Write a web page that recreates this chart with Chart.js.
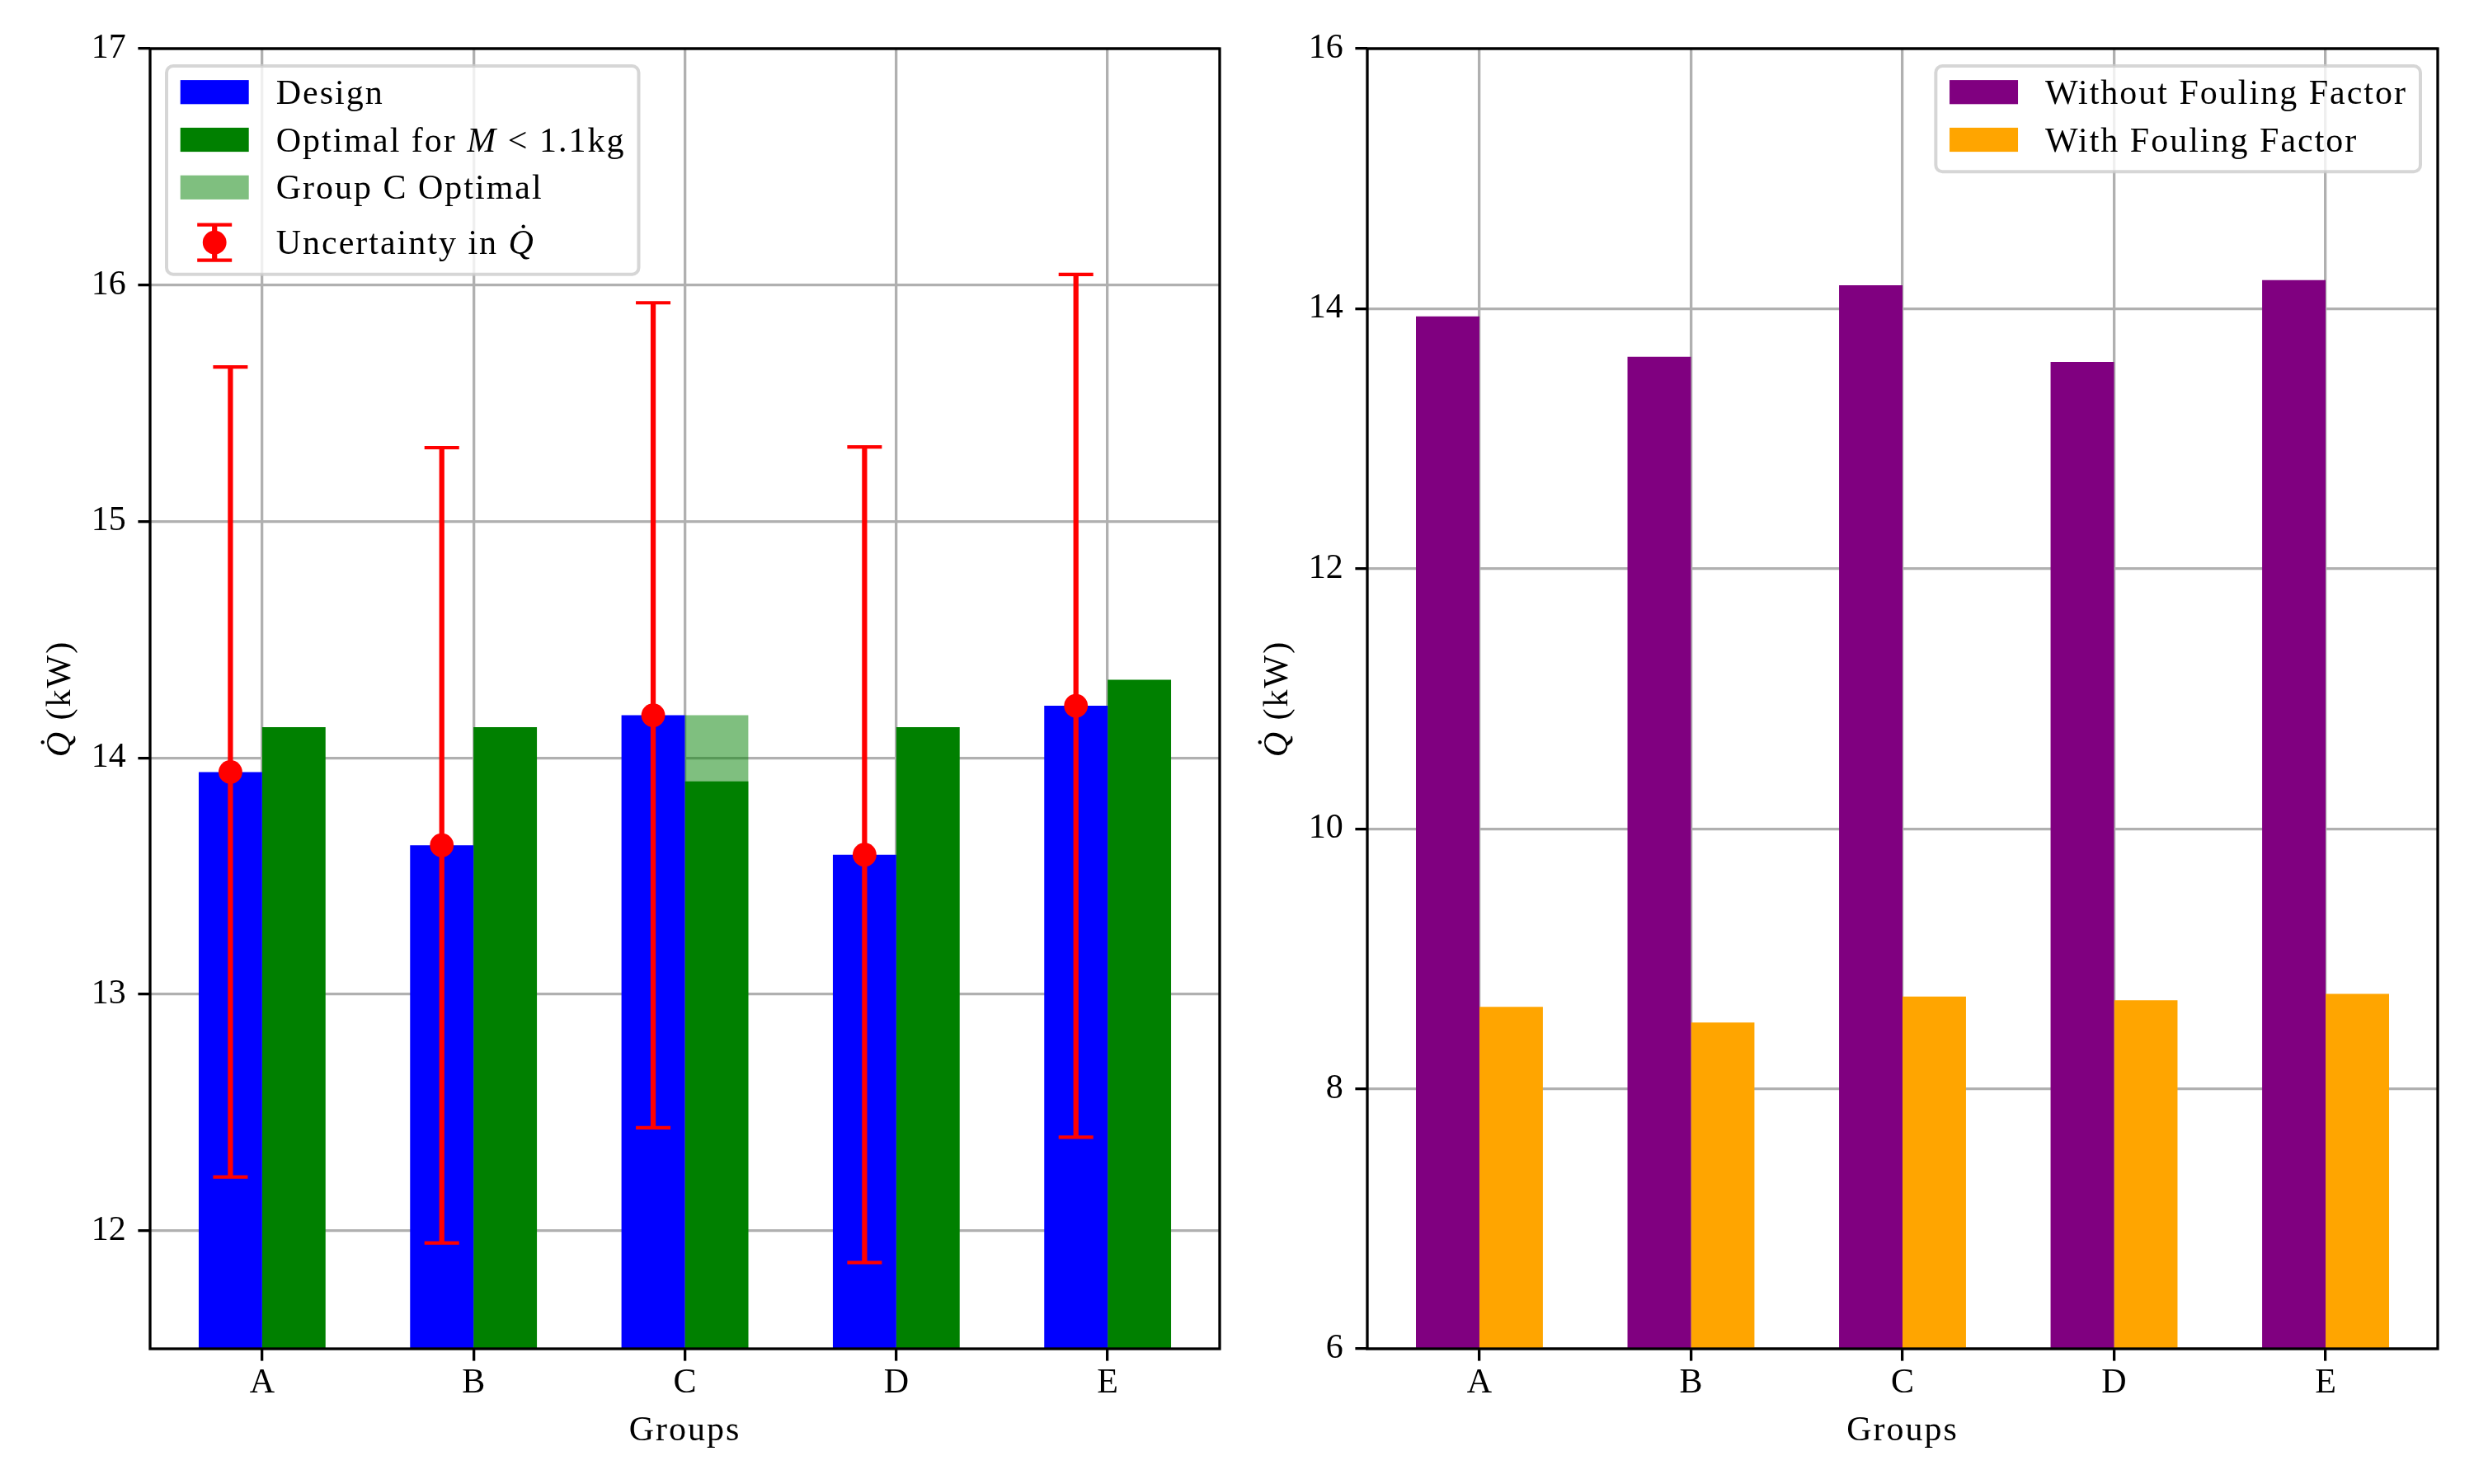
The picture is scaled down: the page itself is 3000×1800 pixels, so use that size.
<!DOCTYPE html>
<html>
<head>
<meta charset="utf-8">
<title>Heat transfer rate by group</title>
<script src="https://cdn.jsdelivr.net/npm/chart.js@4.4.1/dist/chart.umd.min.js"></script>
<style>
  html, body { margin: 0; padding: 0; background: #fff; }
  #wrap { position: relative; width: 3000px; height: 1800px; }
  canvas { position: absolute; top: 0; }
  #leftChart { left: 0; }
  #rightChart { left: 1500px; }
</style>
</head>
<body>
<div id="wrap">
  <canvas id="leftChart" width="1500" height="1800"></canvas>
  <canvas id="rightChart" width="1500" height="1800"></canvas>
</div>
<script>
// data
const groups = ['A', 'B', 'C', 'D', 'E'];
const designQ = [13.94, 13.63, 14.18, 13.59, 14.22];
const optimalQ = [14.13, 14.13, 13.90, 14.13, 14.33];
const groupCOptimalQ = [null, null, 14.18, null, null];
const uncertaintyQ = [1.713, 1.682, 1.745, 1.725, 1.825];
const withoutFoulingQ = [13.94, 13.63, 14.18, 13.59, 14.22];
const withFoulingQ = [8.63, 8.51, 8.71, 8.68, 8.73];
const leftTicks = [12, 13, 14, 15, 16, 17];
const rightTicks = [6, 8, 10, 12, 14, 16];

const SERIF = "'Liberation Serif', 'Times New Roman', serif";
const FS = 42;
const GRID = '#b0b0b0';

Chart.defaults.font.family = SERIF;
Chart.defaults.font.size = FS;
Chart.defaults.color = '#000';

function fontFor(p) {
  return (p.italic ? 'italic ' : '') + FS + 'px ' + SERIF;
}

function partsWidth(ctx, parts) {
  let w = 0;
  parts.forEach(p => { ctx.font = fontFor(p); w += ctx.measureText(p.text).width; });
  return w;
}

function drawParts(ctx, parts, x, y) {
  parts.forEach(p => {
    ctx.font = fontFor(p);
    ctx.fillText(p.text, x, y);
    x += ctx.measureText(p.text).width;
  });
}

function barPoints(values, shift) {
  const pts = [];
  values.forEach((v, i) => { if (v !== null) pts.push({ x: i + shift, y: v }); });
  return pts;
}

// black box round the plot area (matplotlib spines)
const frameBox = {
  id: 'frameBox',
  afterDraw(chart) {
    const ctx = chart.ctx, a = chart.chartArea;
    ctx.save();
    ctx.strokeStyle = '#000';
    ctx.lineWidth = 3.3;
    ctx.strokeRect(a.left, a.top, a.right - a.left, a.bottom - a.top);
    ctx.restore();
  }
};

function makeWhiskers(values, errors, shift, color) {
  return {
    id: 'whiskers',
    afterDraw(chart) {
      const ctx = chart.ctx, xs = chart.scales.x, ys = chart.scales.y;
      ctx.save();
      ctx.strokeStyle = color;
      values.forEach((v, i) => {
        const px = xs.getPixelForValue(i + shift);
        const hi = ys.getPixelForValue(v + errors[i]);
        const lo = ys.getPixelForValue(v - errors[i]);
        ctx.lineWidth = 6.25;
        ctx.beginPath();
        ctx.moveTo(px, hi);
        ctx.lineTo(px, lo);
        ctx.stroke();
        ctx.lineWidth = 4.2;
        ctx.beginPath();
        ctx.moveTo(px - 21, hi); ctx.lineTo(px + 21, hi);
        ctx.moveTo(px - 21, lo); ctx.lineTo(px + 21, lo);
        ctx.stroke();
      });
      ctx.restore();
    }
  };
}

function makeLegend(items, align) {
  return {
    id: 'boxLegend',
    afterDraw(chart) {
      const ctx = chart.ctx, a = chart.chartArea;
      ctx.save();
      ctx.textBaseline = 'alphabetic';
      ctx.letterSpacing = '2px';
      const textW = Math.max(...items.map(it => partsWidth(ctx, it.parts)));
      const w = 16.7 + 83 + 33 + textW + 16;
      const top = a.top + 21;
      const centers = items.map((it, i) => top + 31.7 + i * 57.8 + (it.kind === 'errorbar' ? 9 : 0));
      const h = centers[centers.length - 1] + 38.7 - top;
      const left = align === 'right' ? a.right - 21 - w : a.left + 20;

      ctx.beginPath();
      ctx.roundRect(left, top, w, h, 8);
      ctx.fillStyle = 'rgba(255,255,255,0.8)';
      ctx.fill();
      ctx.lineWidth = 4;
      ctx.strokeStyle = 'rgba(204,204,204,0.8)';
      ctx.stroke();

      items.forEach((it, i) => {
        const cy = centers[i];
        const hx = left + 16.7;
        if (it.kind === 'errorbar') {
          const cx = hx + 41.5;
          ctx.strokeStyle = it.color;
          ctx.lineWidth = 6.25;
          ctx.beginPath();
          ctx.moveTo(cx, cy - 21.5); ctx.lineTo(cx, cy + 21.5);
          ctx.stroke();
          ctx.lineWidth = 4.2;
          ctx.beginPath();
          ctx.moveTo(cx - 21, cy - 21.5); ctx.lineTo(cx + 21, cy - 21.5);
          ctx.moveTo(cx - 21, cy + 21.5); ctx.lineTo(cx + 21, cy + 21.5);
          ctx.stroke();
          ctx.fillStyle = it.color;
          ctx.beginPath();
          ctx.arc(cx, cy, 14.4, 0, Math.PI * 2);
          ctx.fill();
        } else {
          ctx.fillStyle = it.color;
          ctx.fillRect(hx, cy - 14.6, 83, 29.2);
        }
        ctx.fillStyle = '#000';
        drawParts(ctx, it.parts, hx + 83 + 33, cy + 14);
      });
      ctx.restore();
    }
  };
}

function makeAxisTitles(xParts, yParts) {
  return {
    id: 'axisTitles',
    afterDraw(chart) {
      const ctx = chart.ctx, a = chart.chartArea;
      ctx.save();
      ctx.fillStyle = '#000';
      ctx.textBaseline = 'alphabetic';
      ctx.letterSpacing = '2px';
      let w = partsWidth(ctx, xParts);
      drawParts(ctx, xParts, (a.left + a.right) / 2 - w / 2, a.bottom + 111);
      ctx.translate(a.left - 97, (a.top + a.bottom) / 2);
      ctx.rotate(-Math.PI / 2);
      w = partsWidth(ctx, yParts);
      drawParts(ctx, yParts, -w / 2, 0);
      ctx.restore();
    }
  };
}

function scalesFor(yMin, yMax, yTicks, yWidth) {
  return {
    x: {
      type: 'linear',
      min: -0.53,
      max: 4.53,
      offset: false,
      z: 1,
      afterBuildTicks: s => { s.ticks = groups.map((g, i) => ({ value: i })); },
      afterFit: s => { s.height = 164; },
      ticks: { autoSkip: false, padding: 2, callback: (v, i) => groups[i] },
      grid: { offset: false, color: GRID, lineWidth: 3.3, tickColor: '#000', tickWidth: 3.3, tickLength: 14.6 },
      border: { display: false }
    },
    y: {
      type: 'linear',
      min: yMin,
      max: yMax,
      stacked: false,
      beginAtZero: false,
      z: 1,
      afterBuildTicks: s => { s.ticks = yTicks.map(v => ({ value: v })); },
      afterFit: s => { s.width = yWidth; },
      ticks: { padding: 14.6 },
      grid: { color: GRID, lineWidth: 3.3, tickColor: '#000', tickWidth: 3.3, tickLength: 14.6 },
      border: { display: false }
    }
  };
}

const baseOptions = {
  responsive: false,
  devicePixelRatio: 1,
  animation: false,
  events: [],
  plugins: { legend: { display: false }, tooltip: { enabled: false } }
};

const barStyle = { categoryPercentage: 0.6, barPercentage: 1.0, borderWidth: 0 };

new Chart(document.getElementById('leftChart'), {
  type: 'bar',
  data: {
    datasets: [
      Object.assign({ label: 'Design', data: barPoints(designQ, 0), stack: 'design', backgroundColor: '#0000ff' }, barStyle),
      Object.assign({ label: 'Optimal for M < 1.1kg', data: barPoints(optimalQ, 0), stack: 'optimal', backgroundColor: '#008000' }, barStyle),
      Object.assign({ label: 'Group C Optimal', data: barPoints(groupCOptimalQ, 0), stack: 'optimal', backgroundColor: 'rgba(0,128,0,0.5)' }, barStyle),
      {
        type: 'scatter',
        label: 'Uncertainty in Q',
        data: barPoints(designQ, -0.15),
        order: -1,
        pointRadius: 14.4,
        pointBorderWidth: 0,
        pointBackgroundColor: '#ff0000'
      }
    ]
  },
  options: Object.assign({}, baseOptions, {
    layout: { padding: { top: 59, right: 21, left: 0, bottom: 0 } },
    scales: scalesFor(11.5, 17, leftTicks, 182)
  }),
  plugins: [
    makeWhiskers(designQ, uncertaintyQ, -0.15, '#ff0000'),
    frameBox,
    makeLegend([
      { kind: 'patch', color: '#0000ff', parts: [{ text: 'Design' }] },
      { kind: 'patch', color: '#008000', parts: [{ text: 'Optimal for ' }, { text: 'M', italic: true }, { text: ' < 1.1kg' }] },
      { kind: 'patch', color: 'rgba(0,128,0,0.5)', parts: [{ text: 'Group C Optimal' }] },
      { kind: 'errorbar', color: '#ff0000', parts: [{ text: 'Uncertainty in ' }, { text: 'Q\u0307', italic: true }] }
    ], 'left'),
    makeAxisTitles([{ text: 'Groups' }], [{ text: 'Q\u0307', italic: true }, { text: ' (kW)' }])
  ]
});

new Chart(document.getElementById('rightChart'), {
  type: 'bar',
  data: {
    datasets: [
      Object.assign({ label: 'Without Fouling Factor', data: barPoints(withoutFoulingQ, 0), stack: 'without', backgroundColor: '#800080' }, barStyle),
      Object.assign({ label: 'With Fouling Factor', data: barPoints(withFoulingQ, 0), stack: 'with', backgroundColor: '#ffa500' }, barStyle)
    ]
  },
  options: Object.assign({}, baseOptions, {
    layout: { padding: { top: 59, right: 44, left: 0, bottom: 0 } },
    scales: scalesFor(6, 16, rightTicks, 158)
  }),
  plugins: [
    frameBox,
    makeLegend([
      { kind: 'patch', color: '#800080', parts: [{ text: 'Without Fouling Factor' }] },
      { kind: 'patch', color: '#ffa500', parts: [{ text: 'With Fouling Factor' }] }
    ], 'right'),
    makeAxisTitles([{ text: 'Groups' }], [{ text: 'Q\u0307', italic: true }, { text: ' (kW)' }])
  ]
});
</script>
</body>
</html>
